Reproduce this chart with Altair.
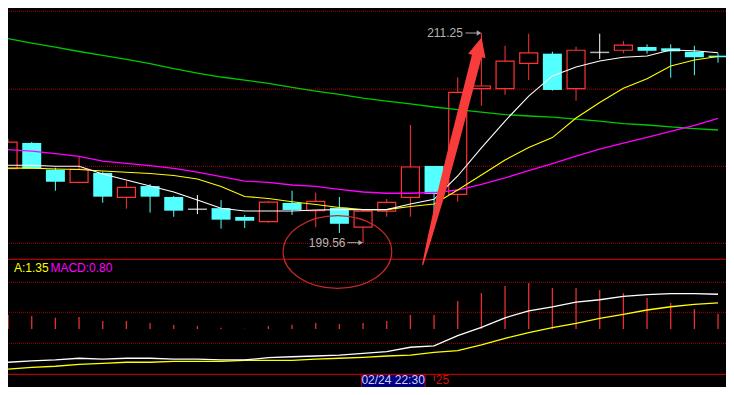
import altair as alt
import pandas as pd
import numpy as np

# ---------------- data ----------------
idx = list(range(31))
open_ = [203.70, 205.13, 203.64, 202.94, 203.46, 202.10, 202.73, 202.12, 201.44, 201.50,
         201.01, 200.75, 201.79, 201.36, 201.52, 200.44, 201.34, 202.10, 203.85, 202.27,
         208.15, 208.15, 209.56, 210.10, 208.15, 210.17, 210.29, 210.47, 210.40, 210.21, 209.99]
high = [205.35, 205.18, 203.75, 204.40, 203.53, 203.01, 202.84, 202.18, 202.23, 201.95,
        201.12, 201.90, 202.47, 202.36, 202.12, 201.34, 202.01, 206.13, 203.85, 208.78,
        211.25, 210.54, 211.21, 210.21, 210.49, 211.21, 210.80, 210.62, 210.62, 210.54, 210.12]
low = [203.68, 203.68, 202.47, 202.89, 201.80, 201.47, 201.25, 201.02, 201.17, 200.36,
       200.40, 200.69, 201.12, 200.44, 200.12, 199.56, 201.02, 201.02, 201.12, 201.86,
       207.20, 207.81, 208.63, 208.04, 207.48, 209.80, 210.12, 210.10, 208.76, 208.90, 209.60]
close = [205.18, 203.70, 202.97, 203.66, 202.14, 202.66, 202.14, 201.36, 201.44, 200.86,
         200.80, 201.84, 201.40, 201.88, 200.63, 201.34, 201.82, 203.79, 202.29, 207.95,
         208.30, 209.68, 210.14, 208.08, 210.29, 210.17, 210.58, 210.26, 210.23, 209.90, 209.90]

ma_white = [203.89, 203.89, 203.83, 203.83, 203.40, 203.07, 202.73, 202.40, 201.95, 201.49,
            201.34, 201.34, 201.34, 201.40, 201.42, 201.42, 201.42, 201.73, 201.99, 203.29,
            204.85, 206.35, 207.74, 208.86, 209.36, 209.69, 209.90, 209.97, 210.30, 210.26, 210.15]
ma_yellow = [203.73, 203.73, 203.68, 203.65, 203.57, 203.50, 203.43, 203.32, 203.12, 202.71,
             202.15, 202.04, 201.86, 201.70, 201.54, 201.42, 201.42, 201.59, 201.73, 202.51,
             203.35, 204.18, 204.88, 205.43, 206.52, 207.38, 208.17, 208.71, 209.41, 209.75, 209.94]
ma_magenta = [204.76, 204.68, 204.54, 204.38, 204.12, 203.99, 203.87, 203.71, 203.51, 203.26,
              203.01, 202.93, 202.79, 202.71, 202.54, 202.40, 202.33, 202.33, 202.37, 202.51,
              202.82, 203.18, 203.59, 203.98, 204.39, 204.78, 205.12, 205.44, 205.78, 206.11, 206.50]
ma_green = [210.94, 210.69, 210.47, 210.22, 210.00, 209.78, 209.55, 209.27, 209.02, 208.80,
            208.63, 208.45, 208.22, 208.02, 207.83, 207.63, 207.46, 207.30, 207.13, 206.99,
            206.85, 206.71, 206.63, 206.57, 206.46, 206.35, 206.21, 206.13, 206.02, 205.93, 205.85]

dif = [-1.75, -1.68, -1.63, -1.54, -1.59, -1.54, -1.54, -1.59, -1.59, -1.63,
       -1.63, -1.51, -1.46, -1.42, -1.38, -1.28, -1.19, -0.96, -0.89, -0.35,
       0.09, 0.59, 0.96, 1.17, 1.41, 1.54, 1.72, 1.81, 1.86, 1.86, 1.83]
dea = [-2.11, -2.02, -1.96, -1.86, -1.81, -1.75, -1.75, -1.70, -1.70, -1.70,
       -1.65, -1.65, -1.65, -1.59, -1.54, -1.49, -1.42, -1.37, -1.23, -1.14,
       -0.84, -0.49, -0.19, 0.07, 0.30, 0.56, 0.77, 1.00, 1.17, 1.30, 1.38]
macd = [0.74, 0.68, 0.60, 0.63, 0.42, 0.42, 0.32, 0.21, 0.16, 0.07,
        0.01, 0.16, 0.23, 0.32, 0.26, 0.32, 0.42, 0.74, 0.74, 1.47,
        1.89, 2.26, 2.42, 2.16, 2.16, 2.05, 1.89, 1.63, 1.37, 1.05, 0.80]

price_grid = [212.46, 208.12, 203.83, 199.54]
macd_grid_dotted = [2.458, 0.879, -0.753]
macd_grid_solid = [3.668, -2.384]

high_label = "211.25"
low_label = "199.56"
dea_label = "A:1.35"
macd_label = "MACD:0.80"
date_label = "02/24 22:30"
next_label = "25"

# ---------------- tables ----------------
df = pd.DataFrame({"i": idx, "open": open_, "high": high, "low": low, "close": close,
                   "w": ma_white, "y": ma_yellow, "m": ma_magenta, "g": ma_green,
                   "dif": dif, "dea": dea, "macd": macd})
df["zero"] = 0.0
df["dir"] = np.where(df["close"] > df["open"], "up", np.where(df["close"] < df["open"], "down", "flat"))

xs = alt.Scale(domain=[0.2083, 30.125], nice=False, zero=False)
ps = alt.Scale(domain=[191.544, 212.642], nice=False, zero=False)
ms = alt.Scale(domain=[-3.0526, 16.8947], nice=False, zero=False)

def X(f="i"):
    return alt.X(f"{f}:Q", scale=xs, axis=None)

def YP(f):
    return alt.Y(f"{f}:Q", scale=ps, axis=None)

def YM(f):
    return alt.Y(f"{f}:Q", scale=ms, axis=None)

RED = "#ff3434"
CYAN = "#54ffff"
GRID = "#b00000"
FONT = "Liberation Sans"

base = alt.Chart(df)

# ---------------- price panel ----------------
pgrid = alt.Chart(pd.DataFrame({"lv": price_grid})).mark_rule(
    color=GRID, strokeDash=[1, 1], strokeWidth=1).encode(y=YP("lv"))

wick_up = base.transform_filter("datum.dir == 'up'").mark_rule(color=RED, strokeWidth=1).encode(
    x=X(), y=YP("low"), y2=alt.Y2("high"))
wick_dn = base.transform_filter("datum.dir == 'down'").mark_rule(color=CYAN, strokeWidth=1).encode(
    x=X(), y=YP("low"), y2=alt.Y2("high"))
wick_fl = base.transform_filter("datum.dir == 'flat'").mark_rule(color="white", strokeWidth=1).encode(
    x=X(), y=YP("low"), y2=alt.Y2("high"))
body_up = base.transform_filter("datum.dir == 'up'").mark_bar(
    size=18, fill="black", stroke=RED, strokeWidth=1.2).encode(x=X(), y=YP("open"), y2=alt.Y2("close"))
body_dn = base.transform_filter("datum.dir == 'down'").mark_bar(
    size=19, color=CYAN).encode(x=X(), y=YP("open"), y2=alt.Y2("close"))
body_fl = base.transform_filter("datum.dir == 'flat'").mark_tick(
    orient="horizontal", size=19, thickness=1.5, color="white").encode(x=X(), y=YP("open"))

l_green = base.mark_line(color="#00c800", strokeWidth=1.3).encode(x=X(), y=YP("g"))
l_mag = base.mark_line(color="#ff00ff", strokeWidth=1.3).encode(x=X(), y=YP("m"))
l_yel = base.mark_line(color="#ffff00", strokeWidth=1.1).encode(x=X(), y=YP("y"))
l_wht = base.mark_line(color="#ffffff", strokeWidth=1.1).encode(x=X(), y=YP("w"))

lab = pd.DataFrame({"tx": [17.708, 12.708], "ty": [211.25, 199.58], "t": [high_label, low_label],
                    "a0": [19.333, 14.333], "a1": [19.85, 14.85], "ah": [19.9, 14.9]})
lab_text = alt.Chart(lab).mark_text(align="left", baseline="middle", font=FONT, fontSize=12,
                                    color="#b4b4b4").encode(x=X("tx"), y=YP("ty"), text="t:N")
lab_rule = alt.Chart(lab).mark_rule(color="#a8a8a8", strokeWidth=1).encode(
    x=X("a0"), x2=alt.X2("a1"), y=YP("ty"))
lab_head = alt.Chart(lab).mark_point(shape="triangle-right", size=28, filled=True, opacity=1,
                                     color="#a8a8a8").encode(x=X("ah"), y=YP("ty"))

price_group = alt.layer(pgrid, wick_up, wick_dn, wick_fl, body_up, body_dn, body_fl,
                        l_green, l_mag, l_yel, l_wht, lab_text, lab_rule, lab_head)

# ---------------- MACD panel ----------------
mgrid_d = alt.Chart(pd.DataFrame({"lv": macd_grid_dotted})).mark_rule(
    color=GRID, strokeDash=[1, 1], strokeWidth=1).encode(y=YM("lv"))
mgrid_s = alt.Chart(pd.DataFrame({"lv": macd_grid_solid})).mark_rule(
    color="#b40000", strokeWidth=1.2).encode(y=YM("lv"))
mbars = base.mark_rule(color="#e83030", strokeWidth=1.3).encode(x=X(), y=YM("zero"), y2=alt.Y2("macd"))
m_dea = base.mark_line(color="#ffff00", strokeWidth=1.3).encode(x=X(), y=YM("dea"))
m_dif = base.mark_line(color="#ffffff", strokeWidth=1.3).encode(x=X(), y=YM("dif"))

mt = pd.DataFrame({"tx": [0.25, 1.79], "ty": [3.21, 3.21], "t": [dea_label, macd_label],
                   "c": ["dea", "macd"]})
m_text = alt.Chart(mt).mark_text(align="left", baseline="middle", font=FONT, fontSize=12).encode(
    x=X("tx"), y=YM("ty"), text="t:N",
    color=alt.Color("c:N", scale=alt.Scale(domain=["dea", "macd"], range=["#ffff00", "#ff00ff"]),
                    legend=None))

date_box = alt.Chart(pd.DataFrame({"x0": [14.93], "x1": [17.625], "y0": [-2.395], "y1": [-3.34]})).mark_rect(
    fill="#000080", stroke="#c00000", strokeWidth=1).encode(
    x=X("x0"), x2=alt.X2("x1"), y=YM("y0"), y2=alt.Y2("y1"))
date_text = alt.Chart(pd.DataFrame({"tx": [16.27], "ty": [-2.66], "t": [date_label]})).mark_text(
    align="center", baseline="middle", font=FONT, fontSize=12, color="#d0d0f0").encode(
    x=X("tx"), y=YM("ty"), text="t:N")
next_tick = alt.Chart(pd.DataFrame({"tx": [18.01], "y0": [-2.45], "y1": [-2.72]})).mark_rule(
    color="#d01010", strokeWidth=1).encode(x=X("tx"), y=YM("y0"), y2=alt.Y2("y1"))
next_text = alt.Chart(pd.DataFrame({"tx": [18.07], "ty": [-2.66], "t": [next_label]})).mark_text(
    align="left", baseline="middle", font=FONT, fontSize=12, color="#d01010").encode(
    x=X("tx"), y=YM("ty"), text="t:N")

macd_group = alt.layer(mgrid_d, mgrid_s, mbars, m_dea, m_dif, m_text,
                       date_box, date_text, next_tick, next_text)

# ---------------- annotations (hand-drawn arrow and ellipse) ----------------
arrow_path = ("M -0.2612 0.9961 L -0.2161 0.7737 L -0.1186 0.3309 L -0.0260 -0.0476 "
              "L 0.1768 -0.8470 L 0.1429 -0.8558 L 0.2611 -0.9974 L 0.2957 -0.8161 "
              "L 0.2618 -0.8250 L 0.0505 -0.0278 L -0.0524 0.3481 L -0.1821 0.7825 "
              "L -0.2511 0.9987 Z")
ellipse_path = "M -1 0 A 1 0.6685 0 1 1 1 0 A 1 0.6685 0 1 1 -1 0 Z"

arrow = alt.Chart(pd.DataFrame({"ax": [18.75], "ay": [204.664]})).mark_point(
    shape=arrow_path, size=51984, filled=True, opacity=1, color="#f83c3c").encode(
    x=X("ax"), y=YP("ay"))
ellipse = alt.Chart(pd.DataFrame({"ex": [13.917], "ey": [199.06]})).mark_point(
    shape=ellipse_path, size=11794, filled=False, opacity=1, color="#c42a2a", strokeWidth=1.2).encode(
    x=X("ex"), y=YP("ey"))

annot_group = alt.layer(ellipse, arrow)

chart = alt.layer(price_group, macd_group, annot_group).resolve_scale(y="independent").properties(
    width=718, height=379, autosize=alt.AutoSizeParams(type="none"), padding=0, background="black"
).configure_view(stroke=None)

chart.save("out.html", embed_options={"renderer": "svg", "actions": False})
